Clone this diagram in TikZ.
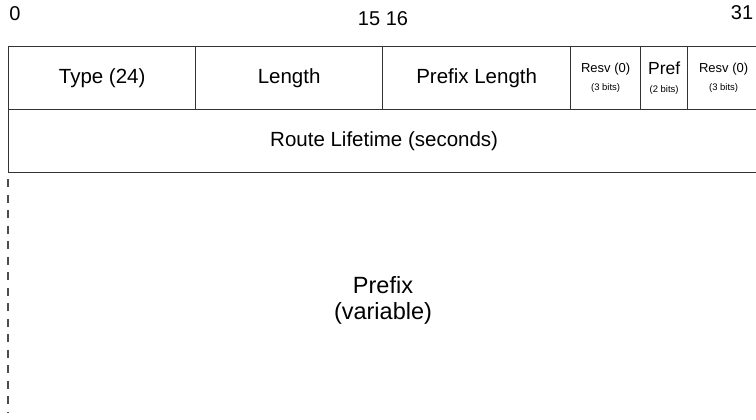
\documentclass[tikz,border=0pt]{standalone}
\usepackage{fontspec}
\setmainfont{Liberation Sans}
\begin{document}
\begin{tikzpicture}[x=1pt,y=-1pt,
  field/.style={draw=black!80, line width=1.3pt, inner sep=0pt, anchor=north west, minimum height=63pt, align=center, font=\fontsize{20.5}{23}\selectfont},
  bitnum/.style={inner sep=0pt, anchor=base, font=\fontsize{20}{22}\selectfont},
  resvtxt/.style={font=\fontsize{13}{14}\selectfont},
  bitstxt/.style={font=\fontsize{9.5}{11}\selectfont}
]
\useasboundingbox (0,0) rectangle (756,420);
% bit numbers
\node[bitnum] (b0) at (15,21) {0};
\node[bitnum] (b15) at (383,26) {15 16};
\node[bitnum] (b31) at (742,20) {31};
% row 1
\node[field, minimum width=187pt] (type) at (8,46) {Type (24)};
\node[field, minimum width=187pt] (len) at (195,46) {Length};
\node[field, minimum width=188pt] (plen) at (382,46) {Prefix Length};
\node[field, minimum width=70pt] (resv1) at (570,46) {\fontsize{13}{14}\selectfont Resv (0)\\[-5pt]\fontsize{9.5}{11}\selectfont (3 bits)};
\node[field, minimum width=47pt] (pref) at (640,46) {\fontsize{17.5}{17}\selectfont Pref\\[-5pt]\fontsize{9.5}{11}\selectfont (2 bits)};
\node[field, minimum width=72pt] (resv2) at (687,46) {\fontsize{13}{14}\selectfont Resv (0)\\[-5pt]\fontsize{9.5}{11}\selectfont (3 bits)};
% row 2
\node[field, minimum width=751pt] (life) at (8,109) {Route Lifetime (seconds)};
% prefix
\node[align=center, inner sep=0pt, font=\fontsize{23.5}{26}\selectfont] (prefix) at (383,300) {Prefix\\(variable)};
\coordinate (dstart) at (8,179);
\coordinate (dend) at (8,413);
\draw[draw=black!70, line width=1.3pt, dash pattern=on 8pt off 7.5pt] (dstart) -- (dend);
\end{tikzpicture}
\end{document}
